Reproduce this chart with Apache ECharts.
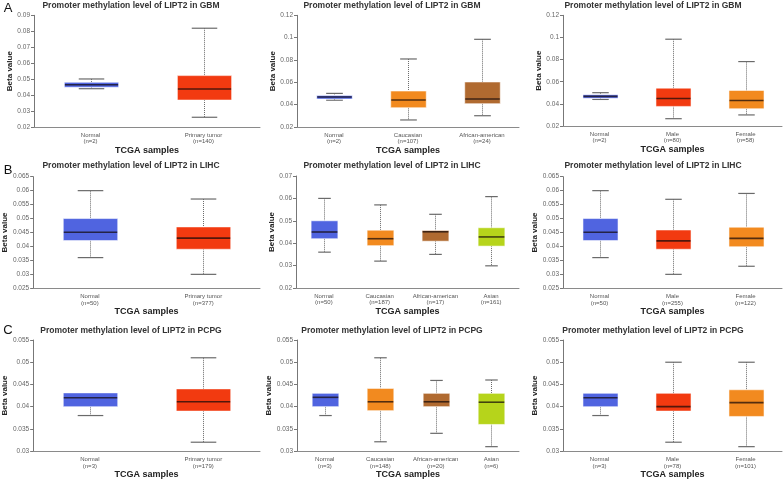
<!DOCTYPE html>
<html>
<head>
<meta charset="utf-8">
<script src="https://cdn.jsdelivr.net/npm/echarts@6/dist/echarts.min.js"></script>
<style>
html,body{margin:0;padding:0;background:#fff;}
#chart{width:784px;height:480px;}
</style>
</head>
<body>
<div id="chart"></div>
<script>
// ---------- DATA (stats per box: [min, Q1, median, Q3, max]) ----------
// Row A – GBM
const a1Categories = ['Normal', 'Primary tumor'];
const a1Counts = [2, 140];
const a1Stats = [[0.0440, 0.0449, 0.0465, 0.0480, 0.0501], [0.0261, 0.0369, 0.0438, 0.0522, 0.0819]];
const a1YTicks = [0.02, 0.09, 0.01];

const a2Categories = ['Normal', 'Caucasian', 'African-american'];
const a2Counts = [2, 107, 24];
const a2Stats = [[0.0440, 0.0450, 0.0468, 0.0483, 0.0501], [0.0263, 0.0373, 0.0442, 0.0522, 0.0809], [0.0301, 0.0409, 0.0451, 0.0603, 0.0985]];
const a2YTicks = [0.02, 0.12, 0.02];

const a3Categories = ['Normal', 'Male', 'Female'];
const a3Counts = [2, 80, 58];
const a3Stats = [[0.0440, 0.0450, 0.0468, 0.0483, 0.0501], [0.0266, 0.0377, 0.0449, 0.0542, 0.0984], [0.0300, 0.0356, 0.0431, 0.0521, 0.0782]];
const a3YTicks = [0.02, 0.12, 0.02];

// Row B – LIHC
const b1Categories = ['Normal', 'Primary tumor'];
const b1Counts = [50, 377];
const b1Stats = [[0.0360, 0.0421, 0.0451, 0.0500, 0.0600], [0.0300, 0.0390, 0.0430, 0.0470, 0.0570]];
const b1YTicks = [0.025, 0.065, 0.005];

const b2Categories = ['Normal', 'Caucasian', 'African-american', 'Asian'];
const b2Counts = [50, 187, 17, 161];
const b2Stats = [[0.0360, 0.0420, 0.0450, 0.0500, 0.0600], [0.0320, 0.0389, 0.0420, 0.0458, 0.0571], [0.0350, 0.0409, 0.0451, 0.0457, 0.0529], [0.0299, 0.0387, 0.0428, 0.0469, 0.0608]];
const b2YTicks = [0.02, 0.07, 0.01];

const b3Categories = ['Normal', 'Male', 'Female'];
const b3Counts = [50, 255, 122];
const b3Stats = [[0.0360, 0.0421, 0.0451, 0.0500, 0.0600], [0.0300, 0.0390, 0.0420, 0.0459, 0.0569], [0.0329, 0.0399, 0.0429, 0.0469, 0.0590]];
const b3YTicks = [0.025, 0.065, 0.005];

// Row C – PCPG
const c1Categories = ['Normal', 'Primary tumor'];
const c1Counts = [3, 179];
const c1Stats = [[0.0380, 0.0400, 0.0420, 0.0431, 0.0431], [0.0320, 0.0390, 0.0411, 0.0440, 0.0510]];
const c1YTicks = [0.03, 0.055, 0.005];

const c2Categories = ['Normal', 'Caucasian', 'African-american', 'Asian'];
const c2Counts = [3, 148, 20, 6];
const c2Stats = [[0.0380, 0.0400, 0.0421, 0.0430, 0.0430], [0.0321, 0.0391, 0.0411, 0.0441, 0.0510], [0.0340, 0.0400, 0.0411, 0.0430, 0.0459], [0.0310, 0.0360, 0.0410, 0.0430, 0.0460]];
const c2YTicks = [0.03, 0.055, 0.005];

const c3Categories = ['Normal', 'Male', 'Female'];
const c3Counts = [3, 78, 101];
const c3Stats = [[0.0380, 0.0400, 0.0420, 0.0430, 0.0430], [0.0320, 0.0390, 0.0400, 0.0430, 0.0500], [0.0310, 0.0378, 0.0409, 0.0438, 0.0500]];
const c3YTicks = [0.03, 0.055, 0.005];

const titleGBM = 'Promoter methylation level of LIPT2 in GBM';
const titleLIHC = 'Promoter methylation level of LIPT2 in LIHC';
const titlePCPG = 'Promoter methylation level of LIPT2 in PCPG';

// ---------- STYLE / LAYOUT ----------
const groupColors = {
  'Normal': '#5064e0',
  'Primary tumor': '#f23a10',
  'Caucasian': '#f28a1f',
  'African-american': '#b06a30',
  'Asian': '#b6d41b',
  'Male': '#f23a10',
  'Female': '#f28a1f'
};

const panels = [
  {cats: a1Categories, n: a1Counts, stats: a1Stats, ticks: a1YTicks, title: titleGBM,  grid: {left: 34,  right: 524, top: 15.3,  bottom: 353},   cx: 131, ty: 6},
  {cats: a2Categories, n: a2Counts, stats: a2Stats, ticks: a2YTicks, title: titleGBM,  grid: {left: 297, right: 265, top: 15.3,  bottom: 353},   cx: 392, ty: 6},
  {cats: a3Categories, n: a3Counts, stats: a3Stats, ticks: a3YTicks, title: titleGBM,  grid: {left: 563, right: 2,   top: 15.3,  bottom: 354},   cx: 653, ty: 6},
  {cats: b1Categories, n: b1Counts, stats: b1Stats, ticks: b1YTicks, title: titleLIHC, grid: {left: 33,  right: 524, top: 176.7, bottom: 191.7}, cx: 131, ty: 166},
  {cats: b2Categories, n: b2Counts, stats: b2Stats, ticks: b2YTicks, title: titleLIHC, grid: {left: 296, right: 265, top: 176,   bottom: 192},   cx: 392, ty: 166},
  {cats: b3Categories, n: b3Counts, stats: b3Stats, ticks: b3YTicks, title: titleLIHC, grid: {left: 563, right: 2,   top: 176.7, bottom: 191.7}, cx: 653, ty: 166},
  {cats: c1Categories, n: c1Counts, stats: c1Stats, ticks: c1YTicks, title: titlePCPG, grid: {left: 33,  right: 524, top: 340,   bottom: 28.3},  cx: 131, ty: 331},
  {cats: c2Categories, n: c2Counts, stats: c2Stats, ticks: c2YTicks, title: titlePCPG, grid: {left: 297, right: 265, top: 340,   bottom: 28.3},  cx: 392, ty: 331},
  {cats: c3Categories, n: c3Counts, stats: c3Stats, ticks: c3YTicks, title: titlePCPG, grid: {left: 563, right: 2,   top: 340,   bottom: 28.3},  cx: 653, ty: 331}
];

const FONT = '"Liberation Sans", Arial, Helvetica, sans-serif';

function makeRender(cats) {
  return function (params, api) {
    const xi = api.value(0);
    const vMin = api.value(1), vQ1 = api.value(2), vMed = api.value(3), vQ3 = api.value(4), vMax = api.value(5);
    const band = api.size([1, 0])[0];
    const bw = band * 0.48;
    const cw = bw * 0.47;
    const p = api.coord([xi, vMin]);
    const cx = Math.round(p[0]) + 0.5;
    const yMin = p[1];
    const yQ1 = api.coord([xi, vQ1])[1];
    const yMed = api.coord([xi, vMed])[1];
    const yQ3 = api.coord([xi, vQ3])[1];
    const yMax = api.coord([xi, vMax])[1];
    const color = groupColors[cats[xi]] || '#888';
    const whisker = {stroke: '#6a6a6a', lineWidth: 1, lineDash: [1, 1]};
    const cap = {stroke: '#6a6a6a', lineWidth: 1.2};
    const children = [];
    if (yMax < yQ3 - 0.5) {
      children.push({type: 'line', shape: {x1: cx, y1: yMax, x2: cx, y2: yQ3}, style: whisker});
      children.push({type: 'line', shape: {x1: cx - cw / 2, y1: yMax, x2: cx + cw / 2, y2: yMax}, style: cap});
    }
    if (yMin > yQ1 + 0.5) {
      children.push({type: 'line', shape: {x1: cx, y1: yQ1, x2: cx, y2: yMin}, style: whisker});
      children.push({type: 'line', shape: {x1: cx - cw / 2, y1: yMin, x2: cx + cw / 2, y2: yMin}, style: cap});
    }
    children.push({type: 'rect', shape: {x: cx - bw / 2, y: yQ3, width: bw, height: yQ1 - yQ3},
      style: {fill: color, stroke: 'rgba(255,255,255,0.55)', lineWidth: 1}});
    children.push({type: 'line', shape: {x1: cx - bw / 2 + 0.5, y1: yMed, x2: cx + bw / 2 - 0.5, y2: yMed},
      style: {stroke: 'rgba(20,10,10,0.72)', lineWidth: 1.6}});
    return {type: 'group', children: children};
  };
}

const grids = [], xAxes = [], yAxes = [], series = [], graphics = [];
panels.forEach(function (pn, i) {
  grids.push(Object.assign({containLabel: false}, pn.grid));
  xAxes.push({
    type: 'category', gridIndex: i,
    data: pn.cats.map(function (c, k) { return c + '\n(n=' + pn.n[k] + ')'; }),
    axisLine: {lineStyle: {color: '#8a8a8a', width: 1}},
    axisTick: {show: false},
    axisLabel: {fontSize: 6, color: '#555', lineHeight: 6.5, margin: 5, fontFamily: FONT, interval: 0},
    name: 'TCGA samples', nameLocation: 'middle', nameGap: 17,
    nameTextStyle: {fontSize: 9, fontWeight: 'bold', color: '#222', fontFamily: FONT}
  });
  yAxes.push({
    type: 'value', gridIndex: i,
    min: pn.ticks[0], max: pn.ticks[1], interval: pn.ticks[2],
    axisLine: {show: true, lineStyle: {color: '#777', width: 1}},
    axisTick: {show: true, length: 3, lineStyle: {color: '#777'}},
    splitLine: {show: false},
    axisLabel: {fontSize: 6.5, color: '#666', margin: 4, fontFamily: FONT,
      formatter: function (v) { return String(+v.toFixed(4)); }},
    name: 'Beta value', nameLocation: 'middle', nameGap: 20, nameRotate: 90,
    nameTextStyle: {fontSize: 8, fontWeight: 'bold', color: '#222', fontFamily: FONT}
  });
  series.push({
    type: 'custom', xAxisIndex: i, yAxisIndex: i,
    renderItem: makeRender(pn.cats),
    encode: {x: 0, y: [1, 2, 3, 4, 5]},
    data: pn.stats.map(function (s, k) { return [k].concat(s); }),
    silent: true
  });
  graphics.push({type: 'text', x: pn.cx, y: pn.ty,
    style: {text: pn.title, font: 'bold 8.5px ' + FONT, fill: '#333', align: 'center', verticalAlign: 'middle'}});
});

graphics.push({type: 'text', x: 8, y: 8, style: {text: 'A', font: '13px ' + FONT, fill: '#111', align: 'center', verticalAlign: 'middle'}});
graphics.push({type: 'text', x: 8, y: 170, style: {text: 'B', font: '13px ' + FONT, fill: '#111', align: 'center', verticalAlign: 'middle'}});
graphics.push({type: 'text', x: 8, y: 330.5, style: {text: 'C', font: '13px ' + FONT, fill: '#111', align: 'center', verticalAlign: 'middle'}});

const chart = echarts.init(document.getElementById('chart'), null, {renderer: 'canvas'});
chart.setOption({
  animation: false,
  backgroundColor: '#ffffff',
  grid: grids,
  xAxis: xAxes,
  yAxis: yAxes,
  series: series,
  graphic: graphics
});
</script>
</body>
</html>
